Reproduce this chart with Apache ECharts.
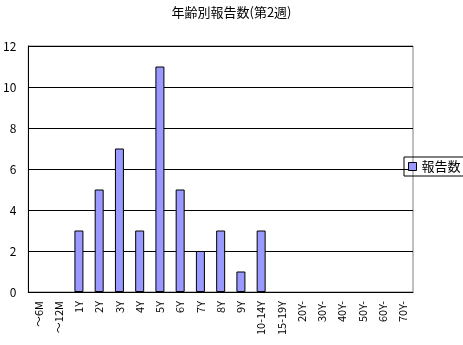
<!DOCTYPE html>
<html><head><meta charset="utf-8">
<script src="https://cdn.jsdelivr.net/npm/echarts@6/dist/echarts.min.js"></script>
<style>html,body{margin:0;padding:0;background:#fff}#c{width:463px;height:345px}</style>
</head><body><div id="c"></div>
<script>
const categories = ['～6M','～12M','1Y','2Y','3Y','4Y','5Y','6Y','7Y','8Y','9Y','10-14Y','15-19Y','20Y-','30Y-','40Y-','50Y-','60Y-','70Y-'];
const reports = [0,0,3,5,7,3,11,5,2,3,1,3,0,0,0,0,0,0,0];
const yTicks = [0,2,4,6,8,10,12];
const seriesName = '報告数';
const titleText = '年齢別報告数(第2週)';
const font = '"Noto Sans CJK JP", sans-serif';
const chart = echarts.init(document.getElementById('c'));
chart.setOption({
  animation: false,
  title: {text: titleText, left: 'center', top: 1, textStyle: {fontFamily: font, fontSize: 13, fontWeight: 'normal', color: '#000'}},
  legend: {data: [{name: seriesName, icon: 'rect'}], left: 404, top: 157, orient: 'vertical', borderColor: '#000', borderWidth: 1, padding: [3, 4, 3, 4], itemWidth: 8, itemHeight: 8, itemGap: 4,
    itemStyle: {borderWidth: 1, borderColor: '#000'},
    textStyle: {fontFamily: font, fontSize: 13, color: '#000'}},
  grid: {left: 24, right: 50, top: 46, bottom: 53, show: true, borderColor: '#808080', borderWidth: 1},
  xAxis: {type: 'category', data: categories,
    axisLine: {lineStyle: {color: '#000'}},
    axisTick: {inside: true, length: 4, lineStyle: {color: '#000'}},
    axisLabel: {rotate: 90, interval: 0, fontFamily: font, fontSize: 11, color: '#000', margin: 9}},
  yAxis: {type: 'value', min: yTicks[0], max: yTicks[yTicks.length - 1], interval: 2,
    axisLine: {show: true, lineStyle: {color: '#000'}},
    axisTick: {show: false},
    splitLine: {lineStyle: {color: '#000'}},
    axisLabel: {fontFamily: font, fontSize: 12, color: '#000', margin: 12}},
  series: [{name: seriesName, type: 'bar', barWidth: 9,
    data: reports.map(v => v === 0 ? {value: v, itemStyle: {borderWidth: 0, opacity: 0}} : v),
    itemStyle: {color: '#9999ff', borderColor: '#000', borderWidth: 1}}]
});
</script></body></html>
